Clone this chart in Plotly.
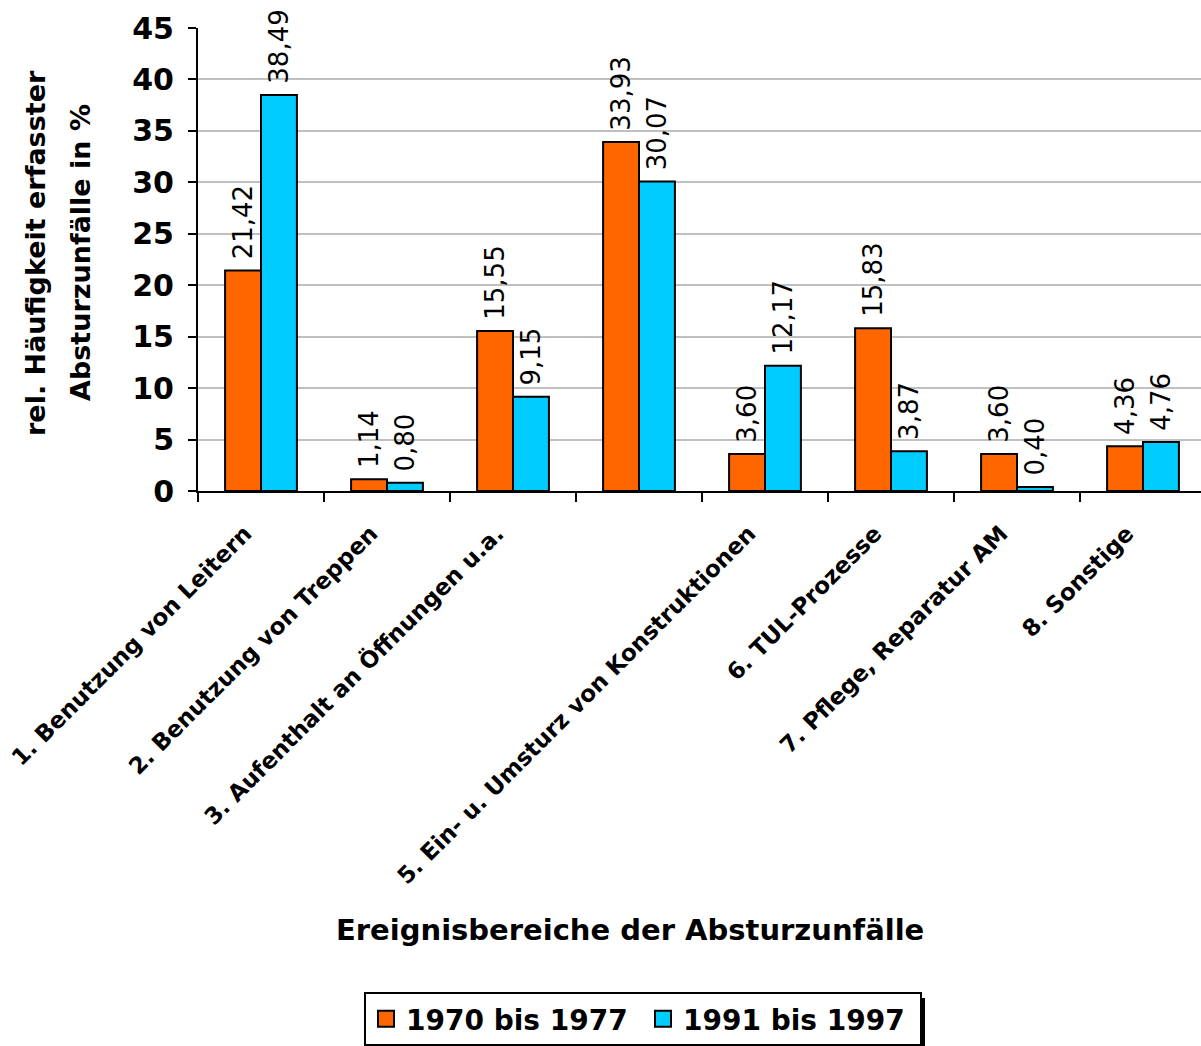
import plotly.graph_objects as go

# Event areas of fall accidents (category 4 carries no axis label)
categories = [
    "1. Benutzung von Leitern",
    "2. Benutzung von Treppen",
    "3. Aufenthalt an Öffnungen u.a.",
    "",
    "5. Ein- u. Umsturz von Konstruktionen",
    "6. TUL-Prozesse",
    "7. Pflege, Reparatur AM",
    "8. Sonstige",
]
series_names = ["1970 bis 1977", "1991 bis 1997"]
values_1970_1977 = [21.42, 1.14, 15.55, 33.93, 3.60, 15.83, 3.60, 4.36]
values_1991_1997 = [38.49, 0.80, 9.15, 30.07, 12.17, 3.87, 0.40, 4.76]
y_ticks = [0, 5, 10, 15, 20, 25, 30, 35, 40, 45]
y_title_lines = ["rel. Häufigkeit erfasster", "Absturzunfälle in %"]

colors = ["#FF6600", "#00CCFF"]
FONT = "DejaVu Sans"

W, H = 1201, 1046
L, T, B = 198, 28, 555
plot_w, plot_h = W - L, H - T - B
x_pos = list(range(len(categories)))


def px_x(px):
    return (px - L) / plot_w


def px_y(py):
    return (H - B - py) / plot_h


fig = go.Figure()
for name, vals, col in zip(series_names, [values_1970_1977, values_1991_1997], colors):
    fig.add_trace(go.Bar(
        x=x_pos, y=vals, name=name, showlegend=False,
        marker=dict(color=col, line=dict(color="black", width=2)),
        texttemplate="\u00a0%{y:.2f}", textposition="outside", textangle=-90,
        textfont=dict(family=FONT, size=26, color="black"),
        constraintext="none", cliponaxis=False,
    ))
    # legend swatch
    fig.add_trace(go.Scatter(
        x=[None], y=[None], mode="markers", name=name,
        marker=dict(symbol="square", size=20, color=col,
                    line=dict(color="black", width=2)),
    ))

fig.update_layout(
    width=W, height=H,
    margin=dict(l=L, r=0, t=T, b=B, autoexpand=False),
    paper_bgcolor="white", plot_bgcolor="white",
    separators=",.",
    barmode="group", bargap=0.43, bargroupgap=0,
    font=dict(family=FONT, color="black"),
    showlegend=True,
    legend=dict(
        orientation="h", xref="paper", yref="paper",
        x=px_x(643), xanchor="center",
        y=px_y(992), yanchor="top",
        font=dict(family=FONT, size=28, color="black", weight="bold"),
        bgcolor="white", bordercolor="black", borderwidth=2,
        itemwidth=30, tracegroupgap=0,
        entrywidth=232, entrywidthmode="pixels",
    ),
    xaxis=dict(
        range=[-0.5, 7.5 - 5 / 126],
        tickmode="array", tickvals=x_pos, ticktext=categories,
        tickangle=-45, ticks="",
        ticklabelstandoff=18, ticklabelshift=-16,
        ticklabeloverflow="allow",
        tickfont=dict(family=FONT, size=23, color="black", weight="bold"),
        showline=True, linecolor="black", linewidth=2,
        showgrid=False, zeroline=False,
        minor=dict(tick0=0.5, dtick=1, ticks="outside", ticklen=9,
                   tickwidth=2, tickcolor="black", showgrid=False),
        automargin=False,
    ),
    yaxis=dict(
        range=[0, 45], tickmode="array", tickvals=y_ticks,
        ticks="outside", ticklen=8, tickwidth=2, tickcolor="black",
        ticklabelstandoff=8,
        tickfont=dict(family=FONT, size=30, color="black", weight="bold"),
        showline=True, linecolor="black", linewidth=2,
        showgrid=True, gridcolor="#C0C0C0", gridwidth=2,
        zeroline=False, automargin=False,
    ),
)

# y-axis title, two lines
for line, cx in zip(y_title_lines, [35, 80]):
    fig.add_annotation(
        text=line, xref="paper", yref="paper",
        x=px_x(cx), y=px_y(253), textangle=-90,
        xanchor="center", yanchor="middle", showarrow=False,
        font=dict(family=FONT, size=27, color="black", weight="bold"),
    )

# x-axis title
fig.add_annotation(
    text="Ereignisbereiche der Absturzunfälle",
    xref="paper", yref="paper",
    x=px_x(630), y=px_y(930),
    xanchor="center", yanchor="middle", showarrow=False,
    font=dict(family=FONT, size=29, color="black", weight="bold"),
)

# legend drop shadow
fig.add_shape(
    type="rect", xref="paper", yref="paper",
    x0=px_x(374), x1=px_x(925),
    y0=px_y(1052), y1=px_y(998),
    fillcolor="black", line=dict(width=0), layer="above",
)

fig.write_html("out.html")
